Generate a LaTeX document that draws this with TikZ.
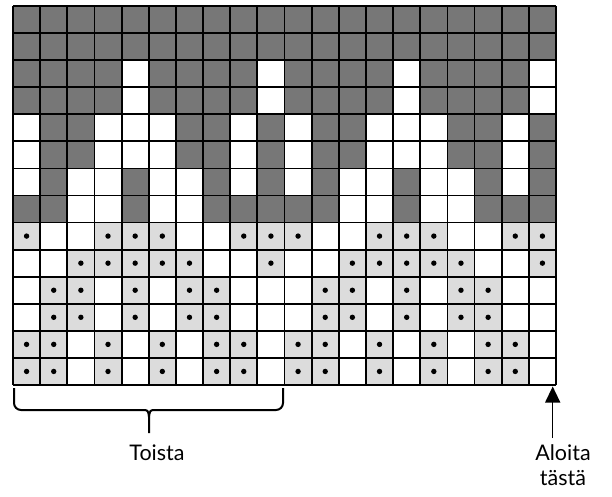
\documentclass[tikz,border=0pt]{standalone}
\usepackage{fontspec}
\setmainfont{Lato}
\usetikzlibrary{arrows.meta}
\definecolor{col0}{HTML}{FFFFFF}
\definecolor{col1}{HTML}{DCDCDC}
\definecolor{col2}{HTML}{777777}
\tikzset{
  cellline/.style={draw=black,line width=1.8pt},
  dotmark/.style={fill=black},
  bracestyle/.style={draw=black,line width=2pt,line join=round},
  label/.style={font=\fontsize{21.5}{25.5}\selectfont,align=center,inner sep=0pt},
}
\begin{document}
\begin{tikzpicture}[x=1pt,y=-1pt]
\useasboundingbox (0,0) rectangle (612,497);
\def\cw{27.15}
\def\ch{27.07}
\def\gx{13}
\def\gy{6}
\foreach \rowdata [count=\r] in {
 {2,2,2,2,2,2,2,2,2,2},
 {2,2,2,2,2,2,2,2,2,2},
 {2,2,2,2,0,2,2,2,2,0},
 {2,2,2,2,0,2,2,2,2,0},
 {0,2,2,0,0,0,2,2,0,2},
 {0,2,2,0,0,0,2,2,0,2},
 {0,2,0,0,2,0,0,2,0,2},
 {2,2,0,0,2,0,0,2,2,2},
 {1,0,0,1,1,1,0,0,1,1},
 {0,0,1,1,1,1,1,0,0,1},
 {0,1,1,0,1,0,1,1,0,0},
 {0,1,1,0,1,0,1,1,0,0},
 {1,1,0,1,0,1,0,1,1,0},
 {1,1,0,1,0,1,0,1,1,0}} {
  \foreach \h in {0,1} {
    \foreach \v [count=\c] in \rowdata {
      \pgfmathsetmacro\xa{\gx+(\h*10+\c-1)*\cw}
      \pgfmathsetmacro\ya{\gy+(\r-1)*\ch}
      \fill[col\v] (\xa,\ya) rectangle ++(\cw,\ch);
      \ifnum\v=1
        \fill[dotmark] (\xa+\cw/2,\ya+\ch/2) circle (2.7);
      \fi
    }
  }
}
% grid lines
\foreach \i in {0,...,20} {
  \draw[cellline] (\gx+\i*\cw,\gy) -- (\gx+\i*\cw,\gy+14*\ch);
}
\foreach \j in {0,...,14} {
  \draw[cellline] (\gx,\gy+\j*\ch) -- (\gx+20*\cw,\gy+\j*\ch);
}
% brace
\coordinate (bl) at (14,388);
\coordinate (br) at (283,388);
\coordinate (bm) at (149,433);
\draw[bracestyle] (bl) -- (14,403) arc[start angle=180,end angle=90,radius=7] -- (142,410)
  .. controls (148,410) .. (149,417) -- (bm);
\draw[bracestyle] (br) -- (283,403) arc[start angle=0,end angle=90,radius=7] -- (156,410)
  .. controls (150,410) .. (149,417);
\node[label] (toista) at (157,453) {Toista};
% arrow
\node[label] (aloita) at (563,465) {Aloita\\tästä};
\coordinate (tip) at (552.7,386.5);
\coordinate (tail) at (552.7,438);
\draw[line width=1.4pt,-{Triangle[length=16pt,width=15pt]}] (tail) -- (tip);
\end{tikzpicture}
\end{document}
